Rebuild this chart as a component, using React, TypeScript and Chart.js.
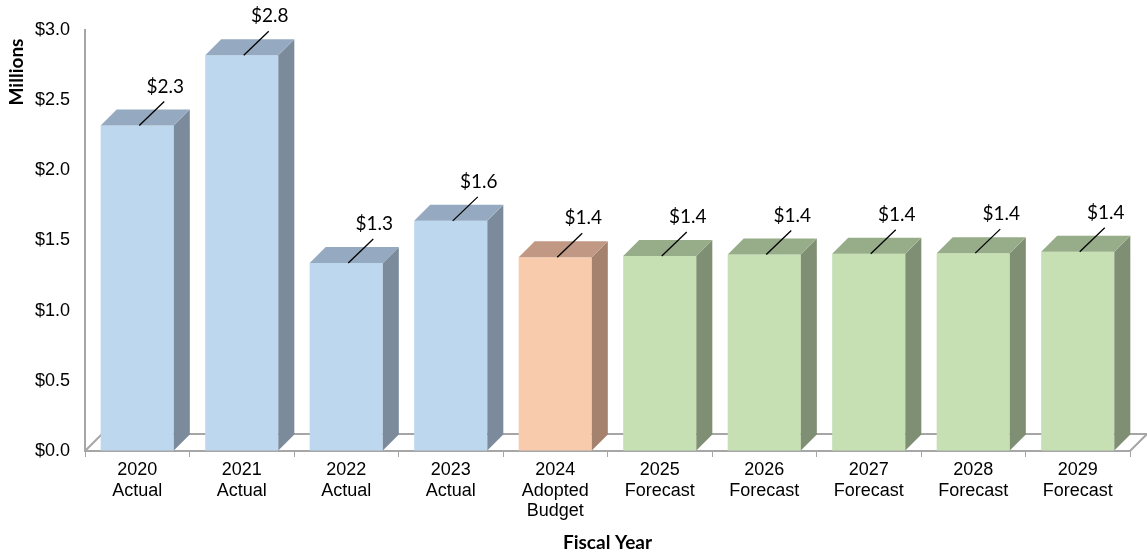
import React, { useEffect, useRef } from "react";
import { Chart, registerables } from "chart.js";

Chart.register(...registerables);

// ---- Data ----
const fiscalYears = ["2020", "2021", "2022", "2023", "2024", "2025", "2026", "2027", "2028", "2029"];
const yearTypes = [
  "Actual",
  "Actual",
  "Actual",
  "Actual",
  "Adopted Budget",
  "Forecast",
  "Forecast",
  "Forecast",
  "Forecast",
  "Forecast",
];
const amountMillions = [2.32, 2.82, 1.34, 1.64, 1.38, 1.39, 1.4, 1.405, 1.41, 1.42];
const yTickValues = [0, 0.5, 1.0, 1.5, 2.0, 2.5, 3.0];
const yAxisTitle = "Millions";
const xAxisTitle = "Fiscal Year";

// ---- Styles ----
const palette: Record<string, { front: string; side: string; top: string }> = {
  Actual: { front: "#bdd7ee", side: "#7b8b9c", top: "#95aac0" },
  "Adopted Budget": { front: "#f8cbad", side: "#a5826e", top: "#c09883" },
  Forecast: { front: "#c6e0b4", side: "#7f8f73", top: "#97ad89" },
};
const DEPTH = 16;
const FLOOR_DEPTH = 17;
const AXIS_GRAY = "#a6a6a6";
const TITLE_FONT = "bold 19px Lato, 'Open Sans', sans-serif";

const xLabels = fiscalYears.map((y, i) => [y, ...yearTypes[i].split(" ")]);

const threeDPlugin = {
  id: "threeD",
  beforeDatasetsDraw(chart: any) {
    const { ctx, chartArea } = chart;
    const { left, right, bottom } = chartArea;
    const d = FLOOR_DEPTH;
    ctx.save();
    ctx.strokeStyle = AXIS_GRAY;
    ctx.lineWidth = 2;
    ctx.beginPath();
    ctx.moveTo(left, bottom);
    ctx.lineTo(left + d, bottom - d);
    ctx.lineTo(right + d, bottom - d);
    ctx.lineTo(right, bottom);
    ctx.stroke();
    ctx.restore();
  },
  afterDatasetsDraw(chart: any) {
    const { ctx } = chart;
    const meta = chart.getDatasetMeta(0);
    meta.data.forEach((bar: any, i: number) => {
      const { x, y, base, width } = bar.getProps(["x", "y", "base", "width"], true);
      const l = x - width / 2;
      const r = x + width / 2;
      const c = palette[yearTypes[i]];
      ctx.save();
      // side face
      ctx.fillStyle = c.side;
      ctx.beginPath();
      ctx.moveTo(r, y);
      ctx.lineTo(r + DEPTH, y - DEPTH);
      ctx.lineTo(r + DEPTH, base - DEPTH);
      ctx.lineTo(r, base);
      ctx.closePath();
      ctx.fill();
      // top face
      ctx.fillStyle = c.top;
      ctx.beginPath();
      ctx.moveTo(l, y);
      ctx.lineTo(l + DEPTH, y - DEPTH);
      ctx.lineTo(r + DEPTH, y - DEPTH);
      ctx.lineTo(r, y);
      ctx.closePath();
      ctx.fill();
      // leader line
      ctx.strokeStyle = "#000000";
      ctx.lineWidth = 1.3;
      ctx.beginPath();
      ctx.moveTo(x + 2, y);
      ctx.lineTo(x + 27, y - 24);
      ctx.stroke();
      // label
      ctx.fillStyle = "#000000";
      ctx.font = "19px Lato, 'Open Sans', sans-serif";
      ctx.textAlign = "center";
      ctx.textBaseline = "middle";
      ctx.fillText("$" + amountMillions[i].toFixed(1), x + 28, y - 39);
      ctx.restore();
    });
  },
  afterDraw(chart: any) {
    const { ctx } = chart;
    ctx.save();
    ctx.translate(17, 72);
    ctx.rotate(-Math.PI / 2);
    ctx.fillStyle = "#000000";
    ctx.font = TITLE_FONT;
    ctx.textAlign = "center";
    ctx.textBaseline = "middle";
    ctx.fillText(yAxisTitle, 0, 0);
    ctx.restore();
  },
};

export default function App() {
  const canvasRef = useRef<HTMLCanvasElement | null>(null);

  useEffect(() => {
    if (!canvasRef.current) return;
    Chart.defaults.font.family = "'Liberation Sans', Arial, sans-serif";
    const chart = new Chart(canvasRef.current, {
      type: "bar",
      data: {
        labels: xLabels,
        datasets: [
          {
            data: amountMillions,
            backgroundColor: yearTypes.map((t) => palette[t].front),
            borderWidth: 0,
            categoryPercentage: 1,
            barPercentage: 0.7,
          },
        ],
      },
      options: {
        animation: false,
        responsive: true,
        maintainAspectRatio: false,
        layout: { padding: { top: 30, right: 17, left: 0, bottom: 0 } },
        plugins: {
          legend: { display: false },
          tooltip: { enabled: false },
        },
        scales: {
          x: {
            grid: {
              drawOnChartArea: false,
              drawTicks: true,
              tickLength: 6,
              color: AXIS_GRAY,
              offset: true,
            },
            border: { display: true, color: AXIS_GRAY, width: 2 },
            ticks: {
              color: "#000000",
              font: { size: 18, lineHeight: 1.14 },
              padding: 3,
              maxRotation: 0,
              autoSkip: false,
            },
            title: {
              display: true,
              text: xAxisTitle,
              color: "#000000",
              font: { family: "Lato, 'Open Sans', sans-serif", size: 19, weight: "bold" },
              padding: { top: 0, bottom: 0 },
            },
            afterFit: (scale: any) => {
              scale.height = 103;
            },
          },
          y: {
            min: 0,
            max: 3,
            afterBuildTicks: (scale: any) => {
              scale.ticks = yTickValues.map((v) => ({ value: v }));
            },
            grid: { drawOnChartArea: false, drawTicks: false },
            border: { display: true, color: AXIS_GRAY, width: 2 },
            ticks: {
              color: "#000000",
              font: { size: 18 },
              padding: 15,
              callback: (v: any) => "$" + Number(v).toFixed(1),
            },
            title: { display: false },
            afterFit: (scale: any) => {
              scale.width = 85;
            },
          },
        },
      },
      plugins: [threeDPlugin],
    });
    return () => chart.destroy();
  }, []);

  return (
    <div style={{ position: "absolute", left: 0, top: 0, width: 1147, height: 554, background: "#ffffff" }}>
      <canvas ref={canvasRef} />
    </div>
  );
}
